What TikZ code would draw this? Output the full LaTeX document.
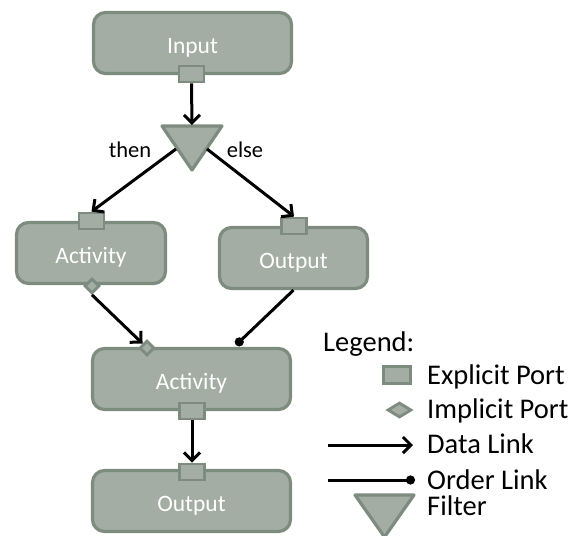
\documentclass[tikz,border=0pt]{standalone}
\usepackage{fontspec}
\setmainfont{Carlito}
\usetikzlibrary{shapes.geometric,arrows.meta}
\definecolor{boxfill}{HTML}{A3ADA3}
\definecolor{boxline}{HTML}{7E8B7F}
\begin{document}
\begin{tikzpicture}[x=1pt,y=-1pt,
  blockbox/.style={draw=boxline,fill=boxfill,line width=3.2pt,rounded corners=12pt,
    text=white,font=\fontsize{23.5}{28}\selectfont,inner sep=0pt,
    text height=20pt,text depth=0pt,minimum height=61pt},
  portbox/.style={draw=boxline,fill=boxfill,line width=2.8pt,inner sep=0pt,
    minimum width=25pt,minimum height=16pt},
  implport/.style={diamond,draw=boxline,fill=boxfill,line width=2.8pt,inner sep=0pt,
    minimum width=15pt,minimum height=15pt},
  filtershape/.style={draw=boxline,fill=boxfill,line width=3.2pt,line join=round},
  datalink/.style={line width=3pt,-{Straight Barb[length=8pt,width=16pt]}},
  orderlink/.style={line width=3pt,-{Circle[length=9pt]}},
  lbl/.style={font=\fontsize{22.5}{27}\selectfont,inner sep=0pt,anchor=base},
  legtext/.style={font=\fontsize{28.5}{34}\selectfont,inner sep=0pt,anchor=base west}
]
\useasboundingbox (0,0) rectangle (571,536);

% boxes
\node[blockbox,minimum width=198pt] (input) at (192.5,43) {Input};
\node[blockbox,minimum width=149pt] (act1) at (91,253) {Activity};
\node[blockbox,minimum width=148pt] (out1) at (293.5,258) {Output};
\node[blockbox,minimum width=198pt] (act2) at (191.5,379) {Activity};
\node[blockbox,minimum width=198pt] (out2) at (191.5,501) {Output};

% ports
\node[portbox] (inputp) at (191.5,74) {};
\node[portbox] (act1p) at (91.5,221) {};
\node[implport] (act1d) at (92,286) {};
\node[portbox] (out1p) at (294,226) {};
\node[implport] (act2d) at (147,348) {};
\node[portbox] (act2p) at (192,411) {};
\node[portbox] (out2p) at (192,472) {};

% filter
\draw[filtershape] (162,126) -- (222,126) -- (192,170) -- cycle;
\coordinate (fltin) at (192,125);
\coordinate (fltthen) at (176,149);
\coordinate (fltelse) at (207,149);
\node[lbl] (then) at (130,157) {then};
\node[lbl] (else) at (245,157) {else};

% links
\draw[datalink] (inputp.south) -- (fltin);
\draw[datalink] (fltthen) -- (act1p.north);
\draw[datalink] (fltelse) -- (out1p.north);
\draw[datalink] (act1d.south) -- (act2d.north west);
\coordinate (orderend) at (236,345);
\draw[orderlink] (out1.south) -- (orderend);
\draw[datalink] (act2p.south) -- (out2p.north);

% legend
\node[legtext] (legend) at (323,351) {Legend:};
\node[portbox,minimum width=27.5pt,minimum height=16.5pt] (legexp) at (397,375) {};
\node[legtext] (legexpt) at (427,384) {Explicit Port};
\node[implport,minimum width=24pt,minimum height=15pt] (legimp) at (399.5,410) {};
\node[legtext] (legimpt) at (427,418) {Implicit Port};
\coordinate (ldataa) at (328,445);
\coordinate (ldatab) at (413,445);
\draw[datalink] (ldataa) -- (ldatab);
\node[legtext] (legdatat) at (427,453) {Data Link};
\coordinate (lorda) at (328,480);
\coordinate (lordb) at (415,480);
\draw[orderlink] (lorda) -- (lordb);
\node[legtext] (legordt) at (427,489) {Order Link};
\draw[filtershape] (355,495) -- (414,495) -- (384.5,537) -- cycle;
\node[legtext] (legfilt) at (427,515) {Filter};
\end{tikzpicture}
\end{document}
